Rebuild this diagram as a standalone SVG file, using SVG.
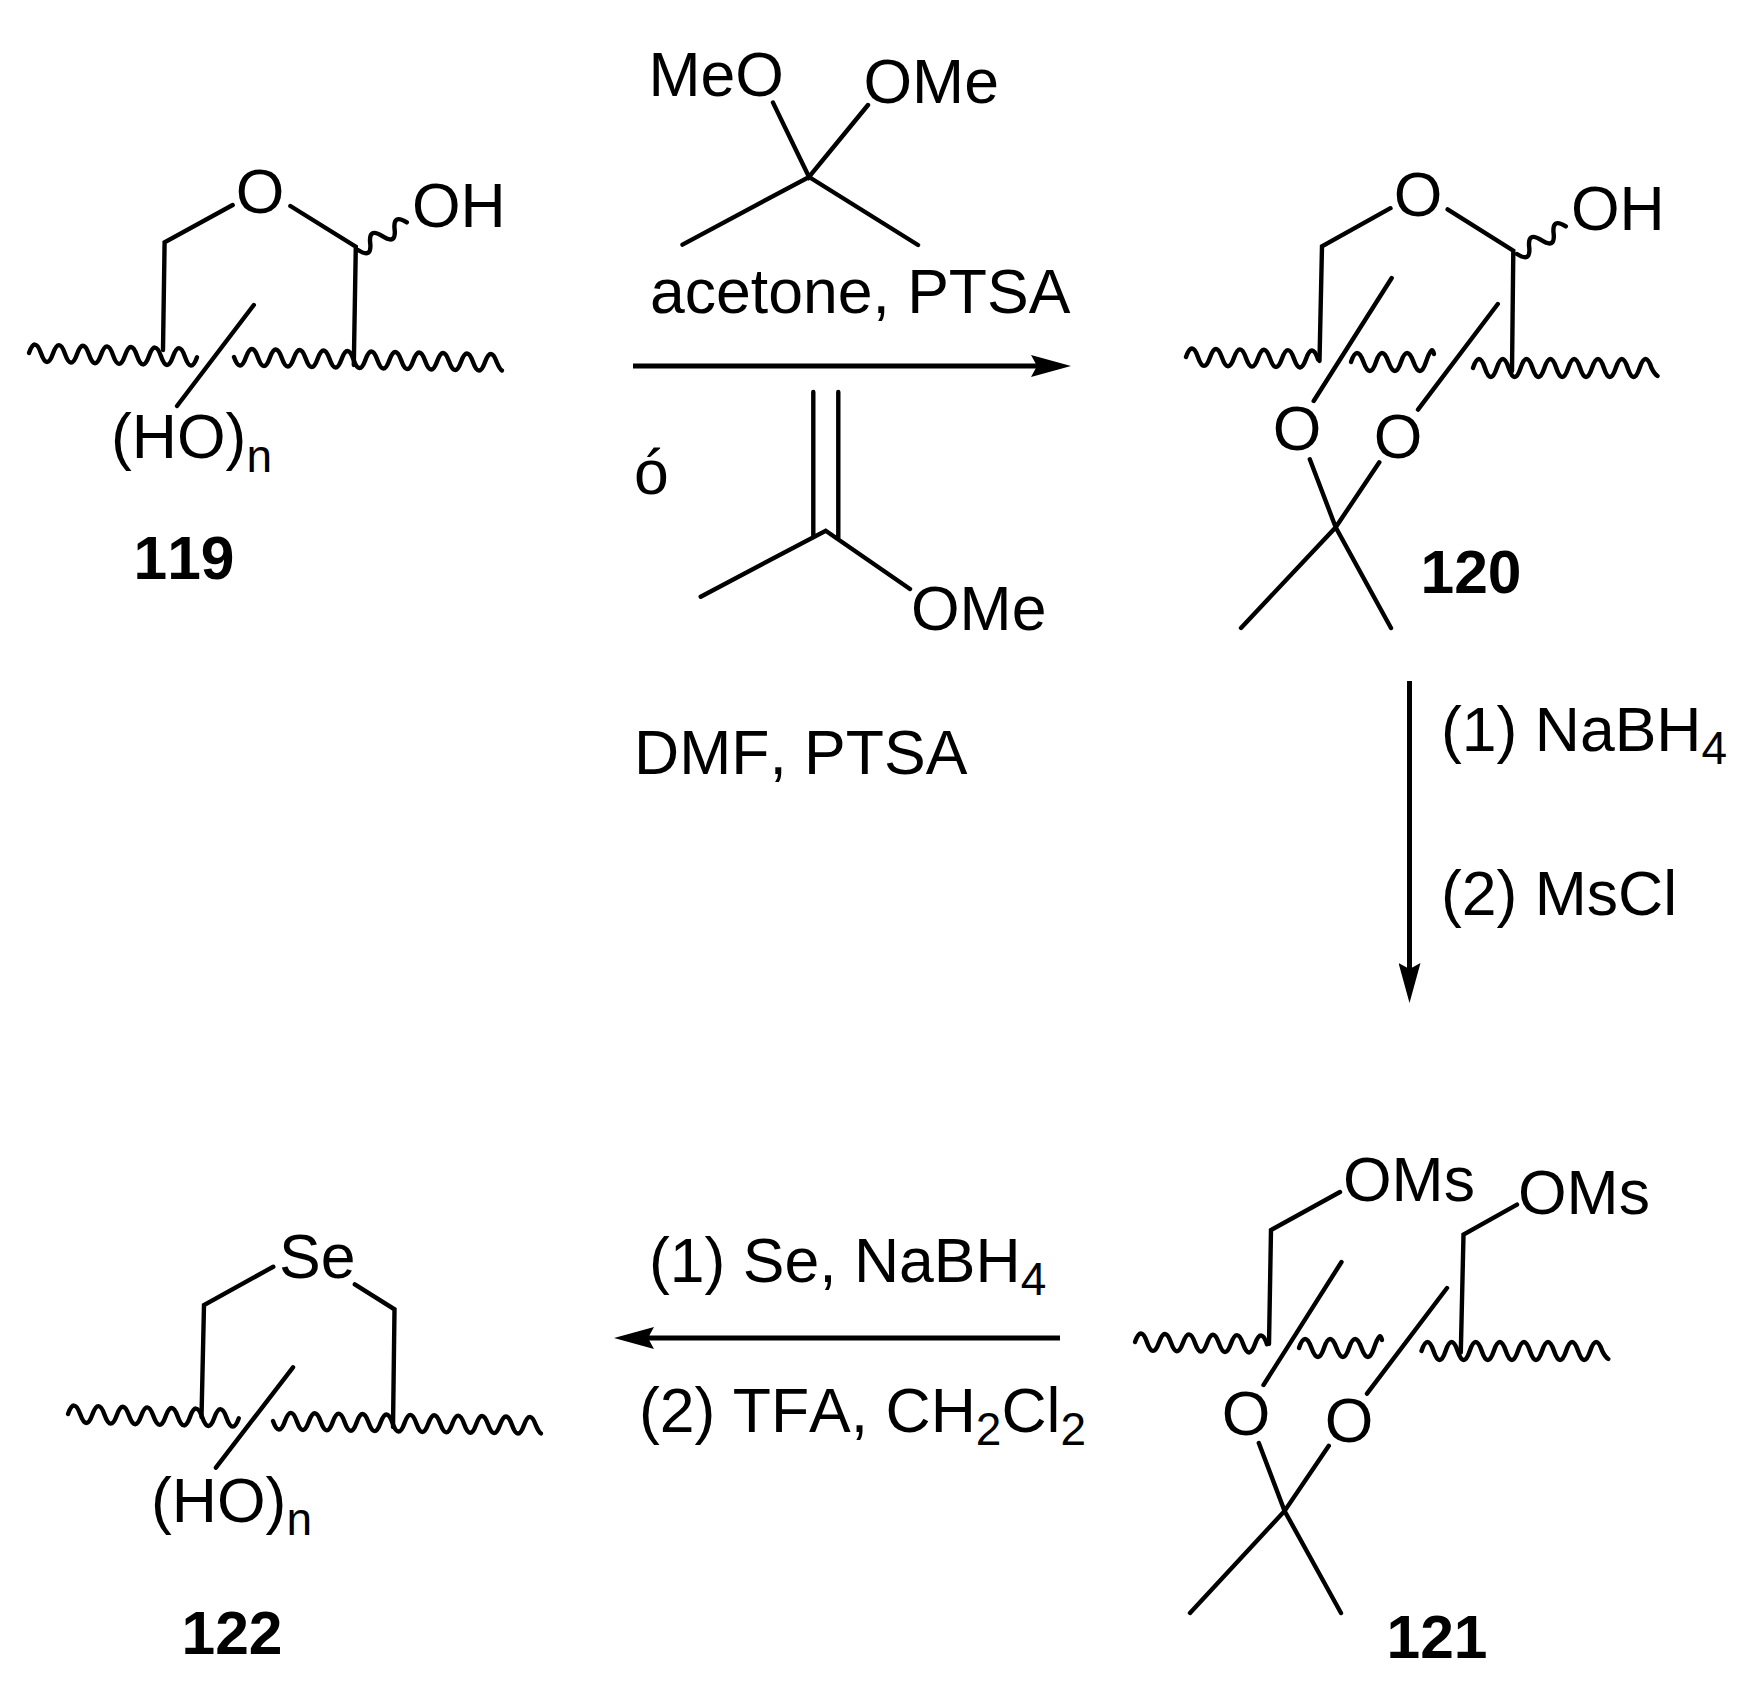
<svg xmlns="http://www.w3.org/2000/svg" width="1762" height="1700" viewBox="0 0 1762 1700">
<style>
text{font-family:"Liberation Sans",Arial,sans-serif;font-size:62.5px;fill:#000;font-kerning:none}
.b{font-weight:bold;text-anchor:middle;font-size:60.5px}
.c{text-anchor:middle}
.s{font-size:46px}
.bond,.wave{fill:none;stroke:#000;stroke-width:4.4;stroke-linecap:round;stroke-linejoin:miter}
.arrow{fill:none;stroke:#000;stroke-width:5}
</style>
<defs>
<marker id="head" viewBox="0 0 40 22" refX="10" refY="11" markerWidth="40" markerHeight="22" markerUnits="userSpaceOnUse" orient="auto"><path d="M0,0L40,11L0,22L6,11Z" fill="#000"/></marker>
</defs>
<rect width="1762" height="1700" fill="#fff"/>
<g id="connectors">
<line class="arrow" x1="633" y1="366" x2="1041" y2="366" marker-end="url(#head)"/>
<line class="arrow" x1="1409.5" y1="681" x2="1409.5" y2="973" marker-end="url(#head)"/>
<line class="arrow" x1="1060" y1="1338" x2="644" y2="1338" marker-end="url(#head)"/>
</g>
<g id="mol119">
<path class="bond" d="M232.7,205L164.6,242.3L163,350M290.4,206L355.8,246.7L353.8,365M253.8,305L177,406"/>
<path class="wave" d="M29,353q6,-17 12,.3t12,.3t12,.3t12,.3t12,.3t12,.3t12,.3t12,.3t12,.3t12,.3t12,.3t12,.3t12,.3t12,.3"/>
<path class="wave" d="M234,357q6,17 11.95,.25t11.95,.25t11.95,.25t11.95,.25t11.95,.25t11.95,.25t11.95,.25t11.95,.25t11.95,.25t11.95,.25t11.95,.25t11.95,.25t11.95,.25t11.95,.25t11.95,.25t11.95,.25t11.95,.25t11.95,.25t11.95,.25t11.95,.25t11.95,.25t11.95,.25q3,7 5,8"/>
<path class="wave" d="M358,250q14,9 12.2,-6.9t12.2,-6.9t12.2,-6.9t12.2,-6.9"/>
<text class="c" x="260" y="213">O</text>
<text x="412" y="227">OH</text>
<text x="111" y="458">(HO)<tspan class="s" dy="13.5">n</tspan></text>
<text class="b" x="184" y="579">119</text>
</g>
<g id="reagent-dimethoxypropane">
<path class="bond" d="M773,102.6L809,177L868,105M682.5,244.6L809,177L918,245"/>
<text x="648.5" y="96">MeO</text>
<text x="863.5" y="103">OMe</text>
<text x="650" y="313">acetone, PTSA</text>
</g>
<g id="reagent-methoxypropene">
<path class="bond" d="M813.3,392V537M838.3,392V538M700.7,596.7L825.7,530.7L910,589"/>
<text x="634" y="494">ó</text>
<text x="911" y="630">OMe</text>
<text x="634" y="774">DMF, PTSA</text>
</g>
<g id="mol120">
<path class="bond" d="M1390.5,208.2L1322,246.3L1319.5,361M1447.6,209.3L1513.3,250.7L1512,371M1391.7,278L1313.7,401M1497.8,304L1418,409.6M1309.8,459.3L1335.7,527.3L1391,628M1379.3,462.3L1335.7,527.3L1241,628"/>
<path class="wave" d="M1186,357q6,-17 12,.2t12,.2t12,.2t12,.2t12,.2t12,.2t12,.2t12,.2t12,.2t12,.2t12,.2"/>
<path class="wave" d="M1351,362q6,-18 12.5,0t12.5,0t12.5,0t12.5,0t12.5,0t12.5,0t8,-8"/>
<path class="wave" d="M1473,368q6,-18 11.9,0t11.9,0t11.9,0t11.9,0t11.9,0t11.9,0t11.9,0t11.9,0t11.9,0t11.9,0t11.9,0t11.9,0t11.9,0t11.9,0t11.9,0q3,6 6,8"/>
<path class="wave" d="M1517,254q14,9 12.2,-6.9t12.2,-6.9t12.2,-6.9t12.2,-6.9"/>
<text class="c" x="1418" y="216">O</text>
<text x="1571" y="230">OH</text>
<text class="c" x="1297" y="450">O</text>
<text class="c" x="1398" y="458">O</text>
<text class="b" x="1471" y="593">120</text>
</g>
<g id="reagent-step2">
<text x="1441" y="751">(1) NaBH<tspan class="s" dy="13">4</tspan></text>
<text x="1441" y="915">(2) MsCl</text>
</g>
<g id="mol121">
<path class="bond" d="M1340,1192L1271,1230L1269,1344M1517,1204.6L1463.5,1234.5L1460.8,1352.5M1341.5,1262L1263.5,1385M1447,1288L1367,1393.7M1258.8,1443L1284.6,1511L1341,1613M1328.8,1445.8L1284.6,1511L1190,1613"/>
<path class="wave" d="M1135,1342q6,-17 12,.2t12,.2t12,.2t12,.2t12,.2t12,.2t12,.2t12,.2t12,.2t12,.2t12,.2"/>
<path class="wave" d="M1299,1348q6,-18 12.5,0t12.5,0t12.5,0t12.5,0t12.5,0t12.5,0t8,-8"/>
<path class="wave" d="M1421.5,1351q6,-18 12.05,0t12.05,0t12.05,0t12.05,0t12.05,0t12.05,0t12.05,0t12.05,0t12.05,0t12.05,0t12.05,0t12.05,0t12.05,0t12.05,0t12.05,0q3,6 6,8"/>
<text x="1343" y="1201">OMs</text>
<text x="1518" y="1214">OMs</text>
<text class="c" x="1246" y="1435">O</text>
<text class="c" x="1349" y="1442">O</text>
<text class="b" x="1437" y="1658">121</text>
</g>
<g id="reagent-step3">
<text x="649" y="1282">(1) Se, NaBH<tspan class="s" dy="13">4</tspan></text>
<text x="639" y="1432">(2) TFA, CH<tspan class="s" dy="13">2</tspan><tspan dy="-13">Cl</tspan><tspan class="s" dy="13">2</tspan></text>
</g>
<g id="mol122">
<path class="bond" d="M273.3,1266.7L204,1305L201.5,1417M354.8,1284.3L394.5,1309.3L393,1427M293,1367.3L215.9,1467.7"/>
<path class="wave" d="M68,1414q6,-17 12.2,.3t12.2,.3t12.2,.3t12.2,.3t12.2,.3t12.2,.3t12.2,.3t12.2,.3t12.2,.3t12.2,.3t12.2,.3t12.2,.3t12.2,.3t12.2,.3"/>
<path class="wave" d="M273,1421q6,17 11.95,.2t11.95,.2t11.95,.2t11.95,.2t11.95,.2t11.95,.2t11.95,.2t11.95,.2t11.95,.2t11.95,.2t11.95,.2t11.95,.2t11.95,.2t11.95,.2t11.95,.2t11.95,.2t11.95,.2t11.95,.2t11.95,.2t11.95,.2t11.95,.2t11.95,.2q3,7 5,8"/>
<text x="279" y="1278">Se</text>
<text x="151" y="1522">(HO)<tspan class="s" dy="13">n</tspan></text>
<text class="b" x="232" y="1654">122</text>
</g>
</svg>
